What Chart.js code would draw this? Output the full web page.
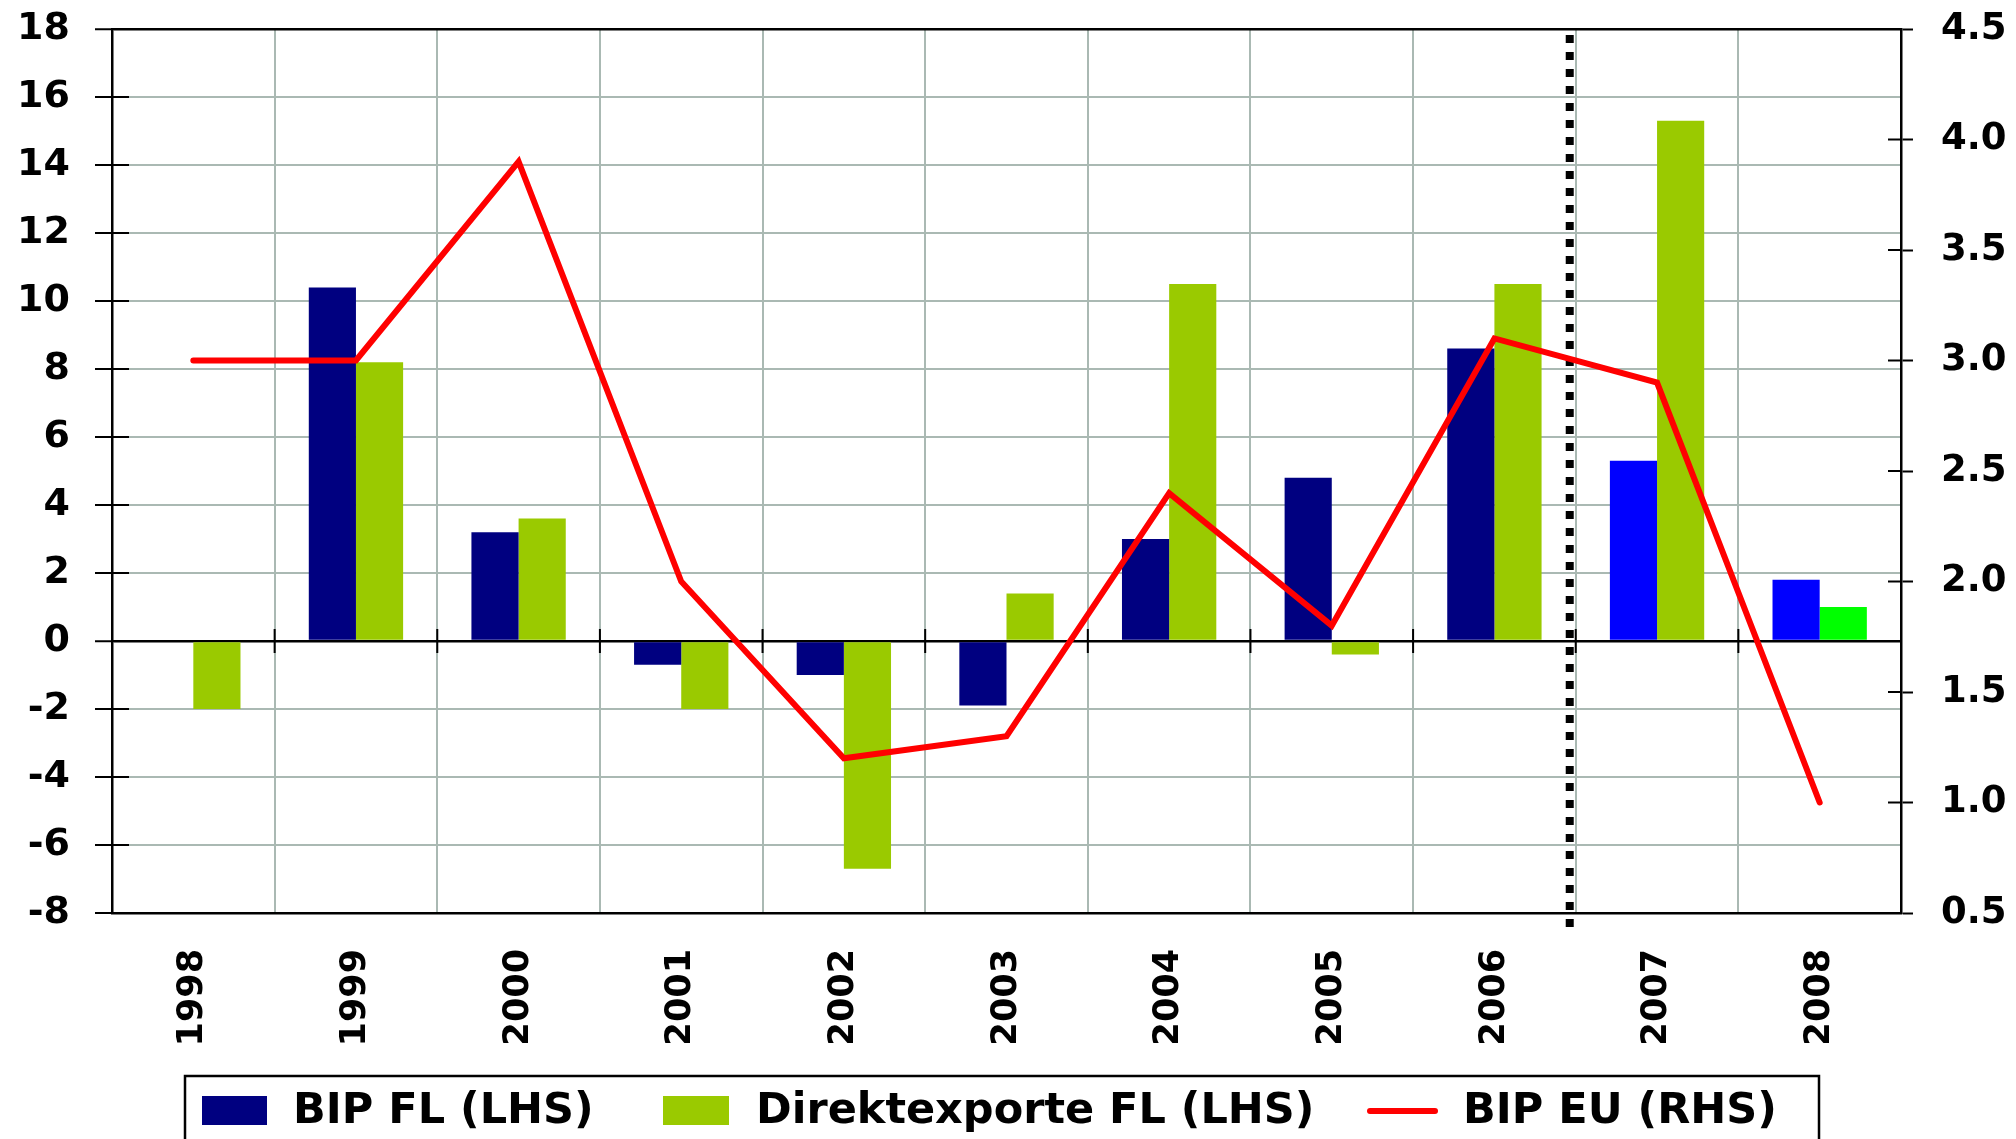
<!DOCTYPE html>
<html>
<head>
<meta charset="utf-8">
<script src="https://cdn.jsdelivr.net/npm/chart.js@4/dist/chart.umd.min.js"></script>
<style>
  html, body { margin: 0; padding: 0; background: #fff; }
  #wrap { width: 2016px; height: 1139px; position: relative; }
</style>
</head>
<body>
<div id="wrap"><canvas id="c"></canvas></div>
<script>
// ---- data ----
const years = ['1998','1999','2000','2001','2002','2003','2004','2005','2006','2007','2008'];
const bipFL = [null, 10.4, 3.2, -0.7, -1.0, -1.9, 3.0, 4.8, 8.6, 5.3, 1.8];
const direktexporteFL = [-2.0, 8.2, 3.6, -2.0, -6.7, 1.4, 10.5, -0.4, 10.5, 15.3, 1.0];
const bipEU = [3.0, 3.0, 3.9, 2.0, 1.2, 1.3, 2.4, 1.8, 3.1, 2.9, 1.0];
const seriesNames = ['BIP FL (LHS)', 'Direktexporte FL (LHS)', 'BIP EU (RHS)'];
const leftTicks = { min: -8, max: 18, step: 2 };
const rightTicks = { min: 0.5, max: 4.5, step: 0.5 };

const FONT = '"DejaVu Sans", sans-serif';
const GRID = '#AAB9B3';
const NAVY = '#000080', BLUE = '#0000FF', GREEN = '#9ACA00', LIME = '#00FF00', RED = '#FF0000';

const extras = {
  id: 'extras',
  beforeDatasetsDraw(chart) {
    const { ctx, chartArea: a, scales } = chart;
    const x = scales.x, y = scales.y, y1 = scales.y1;
    ctx.save();
    ctx.strokeStyle = '#000';
    ctx.lineWidth = 2;
    y.ticks.forEach(t => {
      const py = y.getPixelForValue(t.value);
      ctx.beginPath(); ctx.moveTo(a.left, py); ctx.lineTo(a.left + 17, py); ctx.stroke();
    });
    y1.ticks.forEach(t => {
      const py = y1.getPixelForValue(t.value);
      ctx.beginPath(); ctx.moveTo(a.right - 13, py); ctx.lineTo(a.right, py); ctx.stroke();
    });
    const y0 = y.getPixelForValue(0);
    for (let i = 1; i < years.length; i++) {
      const bx = (x.getPixelForValue(i - 1) + x.getPixelForValue(i)) / 2;
      ctx.beginPath(); ctx.moveTo(bx, y0 - 12); ctx.lineTo(bx, y0 + 12); ctx.stroke();
    }
    const sx = (x.getPixelForValue(8) + x.getPixelForValue(9)) / 2 - 6;
    ctx.lineWidth = 8;
    ctx.setLineDash([8, 9]);
    ctx.beginPath(); ctx.moveTo(sx, a.top + 6); ctx.lineTo(sx, a.bottom + 20); ctx.stroke();
    ctx.restore();
  },
  afterDraw(chart) {
    const { ctx } = chart;
    ctx.save();
    ctx.strokeStyle = '#000';
    ctx.lineWidth = 2.5;
    ctx.strokeRect(185, 1076, 1634, 100);
    ctx.font = 'bold 43px ' + FONT;
    ctx.textBaseline = 'middle';
    ctx.fillStyle = NAVY; ctx.fillRect(202, 1096, 65, 29);
    ctx.fillStyle = '#000'; ctx.fillText(seriesNames[0], 293, 1112);
    ctx.fillStyle = GREEN; ctx.fillRect(663, 1096, 66, 29);
    ctx.fillStyle = '#000'; ctx.fillText(seriesNames[1], 756, 1112);
    ctx.strokeStyle = RED; ctx.lineWidth = 6; ctx.lineCap = 'round';
    ctx.beginPath(); ctx.moveTo(1370, 1111); ctx.lineTo(1435, 1111); ctx.stroke();
    ctx.fillStyle = '#000'; ctx.fillText(seriesNames[2], 1463, 1112);
    ctx.restore();
  }
};

const fixVertical = w => s => { s.width = w; s.paddingTop = 0; s.paddingBottom = 0; };

new Chart(document.getElementById('c'), {
  data: {
    labels: years,
    datasets: [
      {
        type: 'line', label: seriesNames[2], data: bipEU, yAxisID: 'y1', order: 0,
        borderColor: RED, borderWidth: 6, pointRadius: 0, tension: 0,
        borderCapStyle: 'round', borderJoinStyle: 'miter'
      },
      {
        type: 'bar', label: seriesNames[0], data: bipFL, yAxisID: 'y', order: 1,
        backgroundColor: c => c.dataIndex >= 9 ? BLUE : NAVY,
        categoryPercentage: 0.58, barPercentage: 1.0
      },
      {
        type: 'bar', label: seriesNames[1], data: direktexporteFL, yAxisID: 'y', order: 1,
        backgroundColor: c => c.dataIndex >= 10 ? LIME : GREEN,
        categoryPercentage: 0.58, barPercentage: 1.0
      }
    ]
  },
  options: {
    responsive: true,
    maintainAspectRatio: false,
    animation: false,
    layout: { padding: { top: 29, bottom: 96, left: 0, right: 0 } },
    plugins: { legend: { display: false }, tooltip: { enabled: false } },
    scales: {
      x: {
        offset: true,
        grid: { offset: true, color: GRID, lineWidth: 2, drawTicks: false },
        border: { color: '#000', width: 2.5 },
        ticks: {
          minRotation: 90, maxRotation: 90, padding: 36,
          color: '#000', font: { family: FONT, weight: 'bold', size: 35 }
        },
        afterFit: s => { s.height = 130; s.paddingLeft = 0; s.paddingRight = 0; }
      },
      y: {
        position: 'left', min: leftTicks.min, max: leftTicks.max,
        grid: {
          color: c => (c.tick && (c.tick.value === 0 || c.tick.value === leftTicks.max)) ? '#000' : GRID,
          lineWidth: c => (c.tick && (c.tick.value === 0 || c.tick.value === leftTicks.max)) ? 2.5 : 2,
          tickColor: '#000', tickWidth: 2, tickLength: 17
        },
        border: { color: '#000', width: 2.5 },
        ticks: {
          stepSize: leftTicks.step, padding: 25, color: '#000',
          font: { family: FONT, weight: 'bold', size: 38 }
        },
        afterFit: fixVertical(112)
      },
      y1: {
        position: 'right', min: rightTicks.min, max: rightTicks.max,
        grid: { drawOnChartArea: false, tickColor: '#000', tickWidth: 2, tickLength: 12 },
        border: { color: '#000', width: 2.5 },
        ticks: {
          stepSize: rightTicks.step, padding: 28, color: '#000',
          font: { family: FONT, weight: 'bold', size: 37 },
          callback: v => Number(v).toFixed(1)
        },
        afterFit: fixVertical(115)
      }
    }
  },
  plugins: [extras]
});
</script>
</body>
</html>
